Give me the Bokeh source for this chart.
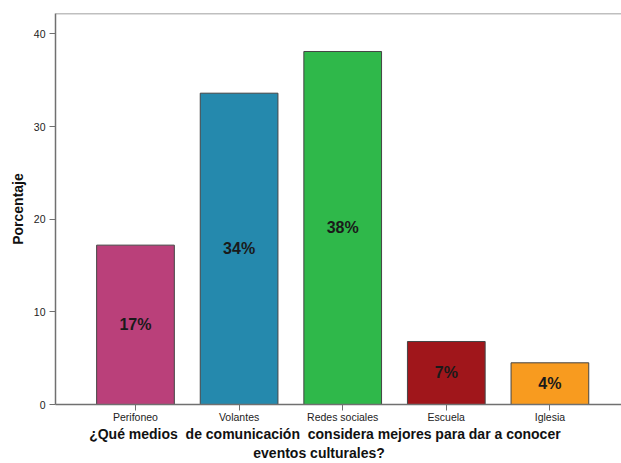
from bokeh.plotting import figure
from bokeh.models import ColumnDataSource, Range1d, FixedTicker, Span
from bokeh.core.properties import value
from bokeh.embed import file_html
from bokeh.resources import INLINE

categories = ["Perifoneo", "Volantes", "Redes sociales", "Escuela", "Iglesia"]
values = [17.2, 33.6, 38.1, 6.8, 4.5]
labels = ["17%", "34%", "38%", "7%", "4%"]
colors = ["#BA407A", "#2589AD", "#2FB84A", "#A0161B", "#F89B1F"]
y_ticks = [0, 10, 20, 30, 40]
x_title_lines = ["¿Qué medios\u00a0 de comunicación\u00a0 considera mejores para dar a conocer",
                 "eventos culturales?"]
y_title = "Porcentaje"

FONT = "Liberation Sans"

xs = list(range(len(categories)))
src = ColumnDataSource(dict(
    x=xs, top=values, color=colors, label=labels,
    mid=[v / 2 for v in values],
))

p = figure(width=621, height=463, output_backend="svg", toolbar_location=None,
           x_range=Range1d(-0.772, 4.691), y_range=Range1d(0, 42.2),
           min_border_left=55, min_border_right=0, min_border_top=13,
           min_border_bottom=59)
p.outline_line_color = None
p.grid.visible = False
p.background_fill_color = "white"
p.border_fill_color = "white"

p.vbar(x="x", top="top", width=0.75, source=src, fill_color="color",
       line_color="#444444", line_width=1)
p.text(x="x", y="mid", text="label", source=src, text_align="center",
       text_baseline="middle", text_font=value(FONT), text_font_size="16px",
       text_font_style="bold", text_color="#1a1a1a")

p.add_layout(Span(location=42.2, dimension="width", line_color="#808080", line_width=1.5))

p.xaxis.ticker = FixedTicker(ticks=xs)
p.xaxis.major_label_overrides = {i: c for i, c in zip(xs, categories)}
p.yaxis.ticker = FixedTicker(ticks=y_ticks)
for ax in (p.xaxis, p.yaxis):
    ax.axis_line_color = "#707070"
    ax.axis_line_width = 1.5
    ax.major_tick_line_color = "#707070"
    ax.major_tick_out = 6
    ax.major_tick_in = 0
    ax.minor_tick_line_color = None
    ax.major_label_text_font = FONT
    ax.major_label_text_font_size = "10.5px"
    ax.major_label_text_color = "#222222"
    ax.axis_label_text_font = FONT
    ax.axis_label_text_font_style = "bold"
    ax.axis_label_text_font_size = "14px"
    ax.axis_label_text_color = "#111111"

p.yaxis.axis_label = y_title
p.yaxis.major_label_standoff = 4
p.yaxis.axis_label_standoff = 5
# trailing no-break spaces nudge the centred title lines to the left, as in the reference
p.xaxis.axis_label = (x_title_lines[0] + "\u00a0" * 7 + "\n"
                      + x_title_lines[1] + "\u00a0" * 10)
p.xaxis.major_label_standoff = 0
p.xaxis.axis_label_standoff = 0

open("out.html", "w").write(file_html(p, INLINE))
